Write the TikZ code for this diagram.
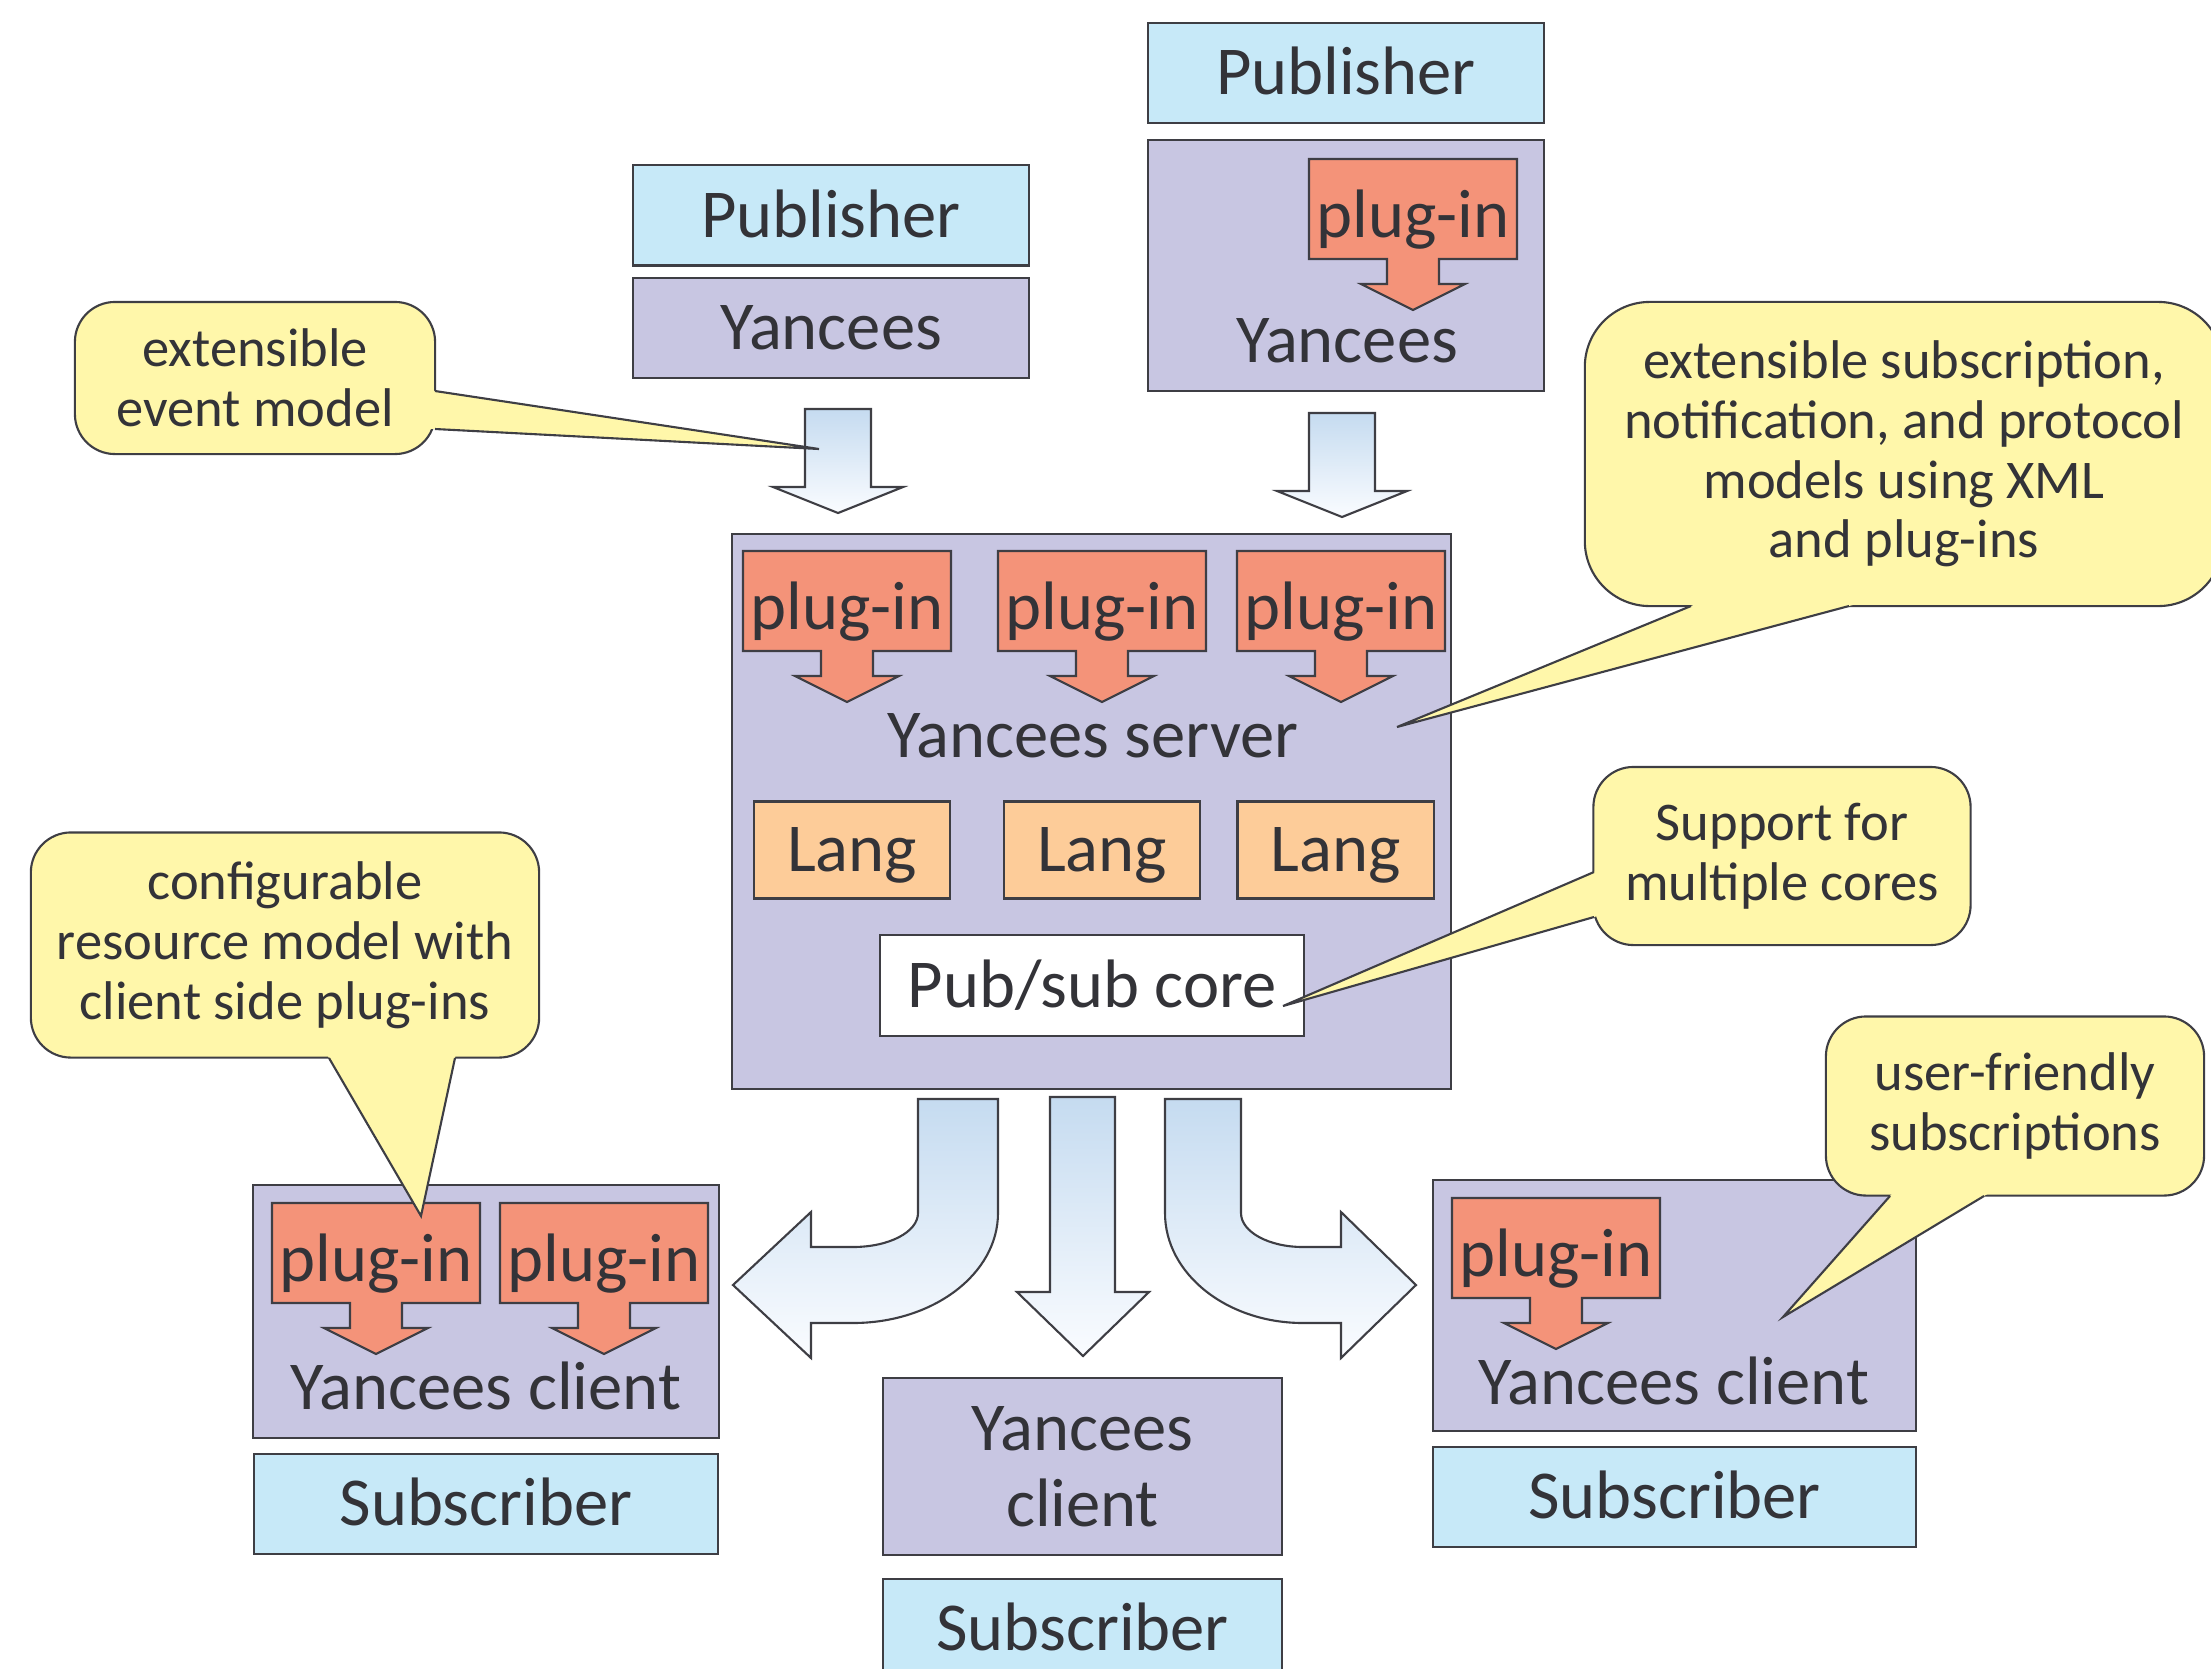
\documentclass[tikz,border=0pt]{standalone}
\usepackage{fontspec}
\setmainfont{Carlito}
\usepackage{tikz}
\usetikzlibrary{calc}
\usetikzlibrary{positioning}
\usepackage{xcolor}

\definecolor{edgegray}{HTML}{3E3E44}
\definecolor{inkgray}{HTML}{333338}
\definecolor{pubblue}{HTML}{C7E9F8}
\definecolor{yanlilac}{HTML}{C8C6E2}
\definecolor{plugred}{HTML}{F49379}
\definecolor{langtan}{HTML}{FDCC99}
\definecolor{noteyel}{HTML}{FFF7AA}
\definecolor{flowtop}{HTML}{C5DBF0}
\definecolor{flowbot}{HTML}{FAFCFF}

\tikzset{
  frame/.style={draw=edgegray, line width=0.6pt, inner sep=0pt},
  bigfont/.style={text=inkgray, font=\fontsize{19.5}{21.5}\selectfont, inner sep=0pt},
  bigtxt/.style={bigfont, text height=12.4pt, text depth=0pt},
  pubbox/.style={frame, bigtxt, fill=pubblue, minimum width=3.96cm, minimum height=1cm},
  yanbox/.style={frame, fill=yanlilac},
  langbox/.style={frame, bigtxt, fill=langtan, minimum width=1.96cm, minimum height=0.97cm},
  plugbody/.style={fill=plugred, draw=edgegray, line width=0.6pt},
  plugtxt/.style={bigtxt, yshift=-2pt},
  flow/.style={draw=edgegray, line width=0.6pt, top color=flowtop, bottom color=flowbot},
  note/.style={draw=edgegray, line width=0.6pt, fill=noteyel, rounded corners=0.4cm,
    align=center, text=inkgray, font=\fontsize{15.5}{17}\selectfont, inner sep=0pt},
  noteedge/.style={draw=edgegray, line width=0.6pt},
}

% plug-in box with its arrow: name, x, y
\newcommand\plugin[3]{%
  \filldraw[plugbody] (#2-104,#3-50) -- (#2+104,#3-50) -- (#2+104,#3+50) -- (#2+26,#3+50)
    -- (#2+26,#3+75) -- (#2+52,#3+75) -- (#2,#3+101) -- (#2-52,#3+75) -- (#2-26,#3+75)
    -- (#2-26,#3+50) -- (#2-104,#3+50) -- cycle;
  \node[plugtxt] (#1) at (#2,#3) {plug-in};}
% block arrow down: centre x, top y
\newcommand\flowdown[2]{%
  \path[flow] (#1-33,#2) -- (#1+33,#2) -- (#1+33,#2+78) -- (#1+65,#2+78) -- (#1,#2+104)
    -- (#1-65,#2+78) -- (#1-33,#2+78) -- cycle;}
% callout pointer: base, tip, base
\newcommand\notetip[3]{%
  \fill[noteyel] ($(#1)!-3pt!(#2)$) -- (#2) -- ($(#3)!-3pt!(#2)$) -- cycle;
  \draw[noteedge] (#1) -- (#2) -- (#3);}

\begin{document}
\begin{tikzpicture}[x=0.01cm, y=-0.01cm, on grid]
        \path[use as bounding box] (0,0) rectangle (2211,1669);
        \clip (0,0) rectangle (2211,1669);

        % publishers
        \node[yanbox, bigtxt, minimum width=3.96cm, minimum height=1cm] (yanL) at (831,328) {Yancees};
        \node[pubbox] (pubL) [above=1.125cm of yanL] {Publisher};
        \node[yanbox, minimum width=3.96cm, minimum height=2.51cm] (yanR) at (1346,265.5) {};
        \node[pubbox] (pubR) [above=1.925cm of yanR] {Publisher};
        \plugin{plugR}{1413}{209}
        \node[bigtxt] (yanRt) at (1347,341) {Yancees};
        \flowdown{838}{409}
        \flowdown{1342}{413}

        % server
        \node[yanbox, minimum width=7.19cm, minimum height=5.55cm] (server) at (1091.5,811.5) {};
        \plugin{plugS1}{847}{601}
        \plugin{plugS2}{1102}{601}
        \plugin{plugS3}{1341}{601}
        \node[bigtxt] (serverT) at (1093,736) {Yancees server};
        \node[langbox] (lang1) at (852,850) {Lang};
        \node[langbox] (lang2) at (1102,850) {Lang};
        \node[langbox] (lang3) at (1335.5,850) {Lang};
        \node[frame, bigtxt, fill=white, minimum width=4.24cm, minimum height=1.01cm] (core) at (1092,985.5) {Pub/sub core};

        % flows to the subscribers
        \path[flow] (918,1099) -- (998,1099) -- (998,1213) .. controls (998,1274) and (933,1323) .. (853,1323)
          -- (811,1323) -- (811,1358) -- (733,1285) -- (811,1212) -- (811,1247) -- (853,1247)
          .. controls (889,1247) and (918,1232) .. (918,1213) -- cycle;
        \path[flow] (1050,1097) -- (1115,1097) -- (1115,1292) -- (1149,1292) -- (1083,1356)
          -- (1017,1292) -- (1050,1292) -- cycle;
        \path[flow] (1165,1099) -- (1241,1099) -- (1241,1213) .. controls (1241,1232) and (1269,1247) .. (1303,1247)
          -- (1341,1247) -- (1341,1212) -- (1416,1285) -- (1341,1358) -- (1341,1323) -- (1303,1323)
          .. controls (1227,1323) and (1165,1274) .. (1165,1213) -- cycle;

        % subscribers
        \node[yanbox, minimum width=4.66cm, minimum height=2.53cm] (cliL) at (486,1311.5) {};
        \plugin{plugL1}{376}{1253}
        \plugin{plugL2}{604}{1253}
        \node[bigtxt] (cliLt) at (486,1388) {Yancees client};
        \node[pubbox, minimum width=4.64cm] (subL) [below=1.925cm of cliL] {Subscriber};
        \node[yanbox, bigfont, align=center, minimum width=3.99cm, minimum height=1.77cm] (cliM) at (1082.5,1466.5) {Yancees\\client};
        \node[pubbox, minimum width=3.99cm] (subM) [below=1.625cm of cliM] {Subscriber};
        \node[yanbox, minimum width=4.83cm, minimum height=2.51cm] (cliR) at (1674.5,1305.5) {};
        \plugin{plugC}{1556}{1248}
        \node[bigtxt] (cliRt) at (1674,1383) {Yancees client};
        \node[pubbox, minimum width=4.83cm] (subR) [below=1.915cm of cliR] {Subscriber};

        % notes
        \node[note, minimum width=3.6cm, minimum height=1.52cm] (evNote) at (255,378) {extensible\\event model};
        \coordinate (evTip) at (819,449);
        \notetip{435,391}{evTip}{435,429}
        \node[note, rounded corners=0.65cm, minimum width=6.38cm, minimum height=3.04cm] (xmlNote) at (1904,454)
          {extensible subscription,\\notification, and protocol\\models using XML\\and plug-ins};
        \coordinate (xmlTip) at (1397,727);
        \notetip{1691,606}{xmlTip}{1849,606}
        \node[note, minimum width=3.77cm, minimum height=1.78cm] (coreNote) at (1782,856) {Support for\\multiple cores};
        \coordinate (coreTip) at (1283,1006);
        \notetip{1594,872}{coreTip}{1594,917}
        \node[note, minimum width=5.08cm, minimum height=2.25cm] (resNote) at (285,945)
          {configurable\\resource model with\\client side plug-ins};
        \coordinate (resTip) at (421,1216);
        \notetip{329,1058}{resTip}{455,1058}
        \node[note, minimum width=3.78cm, minimum height=1.79cm] (userNote) at (2015,1106) {user-friendly\\subscriptions};
        \coordinate (userTip) at (1783,1317);
        \notetip{1890,1196}{userTip}{1984,1196}
      \end{tikzpicture}
\end{document}
